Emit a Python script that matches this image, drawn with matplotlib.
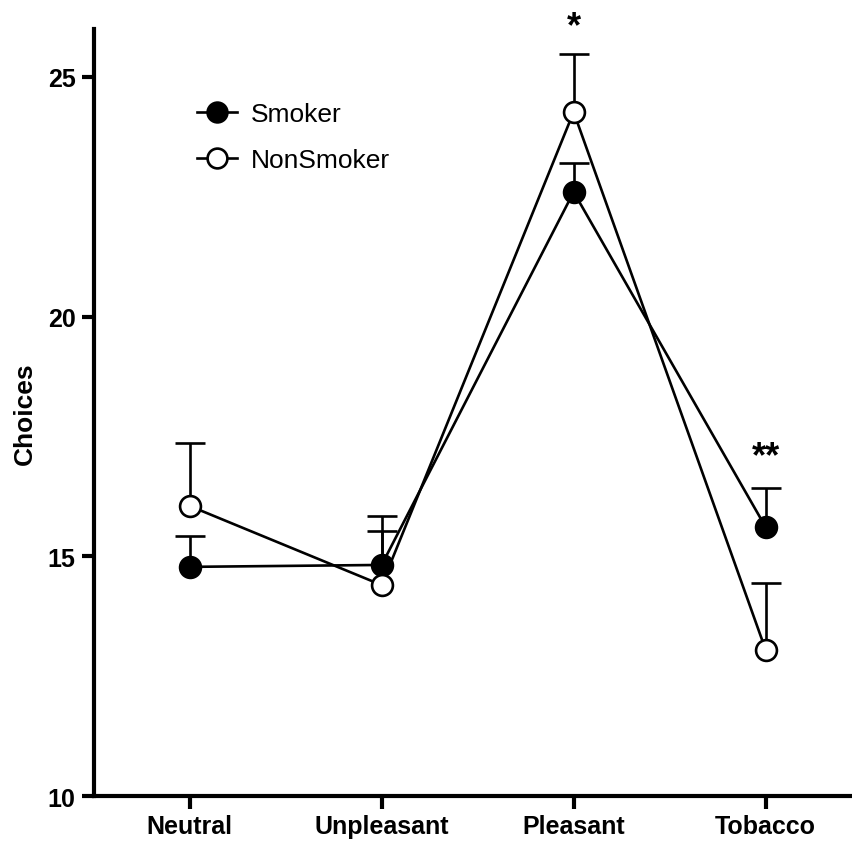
import matplotlib
matplotlib.use("Agg")
import matplotlib.pyplot as plt
import numpy as np

plt.rcParams['font.family'] = ['Liberation Sans', 'DejaVu Sans']

categories = ["Neutral", "Unpleasant", "Pleasant", "Tobacco"]
smoker_mean = [14.78, 14.82, 22.60, 15.61]
smoker_err = [0.64, 0.71, 0.61, 0.82]
nonsmoker_mean = [16.05, 14.40, 24.27, 13.05]
nonsmoker_err = [1.31, 1.44, 1.21, 1.39]
sig_labels = ["", "", "*", "**"]
sig_y = [None, None, 26.05, 17.08]

fig = plt.figure(figsize=(8.52, 8.45), dpi=100)
ax = fig.add_axes([0.110, 0.0568, 0.890, 0.9077])

x = np.arange(len(categories))
lw = 1.9
ms = 15

for means, errs in [(nonsmoker_mean, nonsmoker_err), (smoker_mean, smoker_err)]:
    m = np.array(means)
    e = np.array(errs)
    ax.vlines(x, m, m + e, colors='black', lw=lw, zorder=2)
    ax.plot(x, m + e, linestyle='none', marker='_', ms=22, mew=lw,
            color='black', zorder=2)

ax.plot(x, smoker_mean, '-o', color='black', lw=lw, ms=ms, mfc='black',
        mec='black', mew=lw, label='Smoker', zorder=3)
ax.plot(x, nonsmoker_mean, '-o', color='black', lw=lw, ms=ms, mfc='white',
        mec='black', mew=lw, label='NonSmoker', zorder=4)

for xi, lab, yv in zip(x, sig_labels, sig_y):
    if lab:
        ax.text(xi, yv, lab, ha='center', va='center', fontsize=26,
                fontweight='bold', clip_on=False)

ax.set_xlim(-0.5, 3.45)
ax.set_ylim(10, 26)
ax.set_yticks([10, 15, 20, 25])
ax.set_xticks(x)
ax.set_xticklabels(categories)
for sp in ['top', 'right']:
    ax.spines[sp].set_visible(False)
for sp in ['left', 'bottom']:
    ax.spines[sp].set_linewidth(3)
ax.tick_params(axis='both', width=3, length=9, labelsize=18, pad=4)
for lbl in ax.get_xticklabels() + ax.get_yticklabels():
    lbl.set_fontweight('bold')
ax.set_ylabel("Choices", fontsize=19, fontweight='bold')
ax.yaxis.set_label_coords(-0.075, 0.5)

leg = ax.legend(loc='upper left', bbox_to_anchor=(0.105, 0.936), frameon=False,
                fontsize=19, handlelength=1.5, handletextpad=0.55,
                labelspacing=0.85, markerscale=0.95)

fig.savefig("out.png", dpi=100)
